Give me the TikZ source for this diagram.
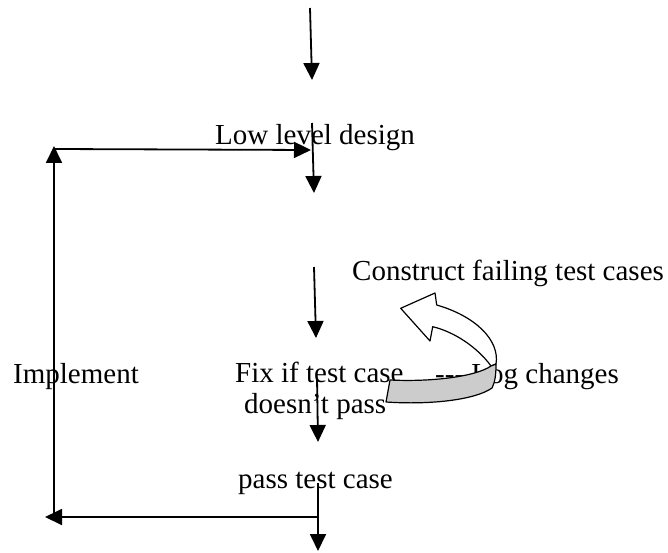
\documentclass[tikz,border=0pt]{standalone}
\usepackage{fontspec}
\setmainfont{Liberation Serif}
\usetikzlibrary{arrows.meta}
\definecolor{bandgrey}{RGB}{204,204,204}
\begin{document}
\begin{tikzpicture}[x=1pt,y=-1pt,
  lbl/.style={anchor=base west, inner sep=0pt, font=\fontsize{29}{31}\selectfont},
  flow/.style={line width=1.8pt, -{Triangle[width=16pt,length=17pt]}},
  band/.style={line width=1.2pt, line join=round}]
\useasboundingbox (0,0) rectangle (668,553);

% labels
\node[lbl] (lld)  at (215,145) {Low level design};
\node[lbl] (cftc) at (352,280) {Construct failing test cases};
\node[lbl] (impl) at (13,383)  {Implement};
\node[lbl] (fix)  at (235,382) {Fix if test case};
\node[lbl] (dnp)  at (244,413) {doesn't pass};
\node[lbl] (log)  at (435,383) {-{}-{}- Log changes};
\node[lbl] (pass) at (238,488) {pass test case};

% end points of the vertical flow arrows
\coordinate (a1s) at (310,8);   \coordinate (a1e) at (312,80);
\coordinate (a2s) at (312,123); \coordinate (a2e) at (314,193);
\coordinate (a3s) at (314,267); \coordinate (a3e) at (316,338);
\coordinate (a4s) at (317,378); \coordinate (a4e) at (318,442);
\coordinate (a5s) at (318,483); \coordinate (a5e) at (318,551);

% corners of the implement loop
\coordinate (lbr) at (318,517);
\coordinate (lbl) at (45,517);
\coordinate (lvb) at (54,517);
\coordinate (lvt) at (54,146);
\coordinate (lht) at (54,149);
\coordinate (lhe) at (311,150);

\draw[flow] (a1s) -- (a1e);
\draw[flow] (a2s) -- (a2e);
\draw[flow] (a3s) -- (a3e);
\draw[flow] (a4s) -- (a4e);
\draw[flow] (a5s) -- (a5e);

\draw[flow] (lbr) -- (lbl);
\draw[flow] (lvb) -- (lvt);
\draw[flow] (lht) -- (lhe);

% curved block arrow: upper white face with head
\draw[band, fill=white]
  (400.7,308.3) -- (435,293) -- (436.7,305)
  .. controls (475,316) and (500,340) .. (496,364)
  -- (491,366)
  .. controls (478,348) and (455,332) .. (432.7,326.7)
  -- (430,341) -- cycle;
% lower grey face
\draw[band, fill=bandgrey]
  (390,380) .. controls (430,382) and (475,377) .. (491,366)
  -- (496,364)
  .. controls (496,375) and (495,382) .. (492,388)
  .. controls (475,400) and (430,405) .. (386,402) -- cycle;
\end{tikzpicture}
\end{document}
